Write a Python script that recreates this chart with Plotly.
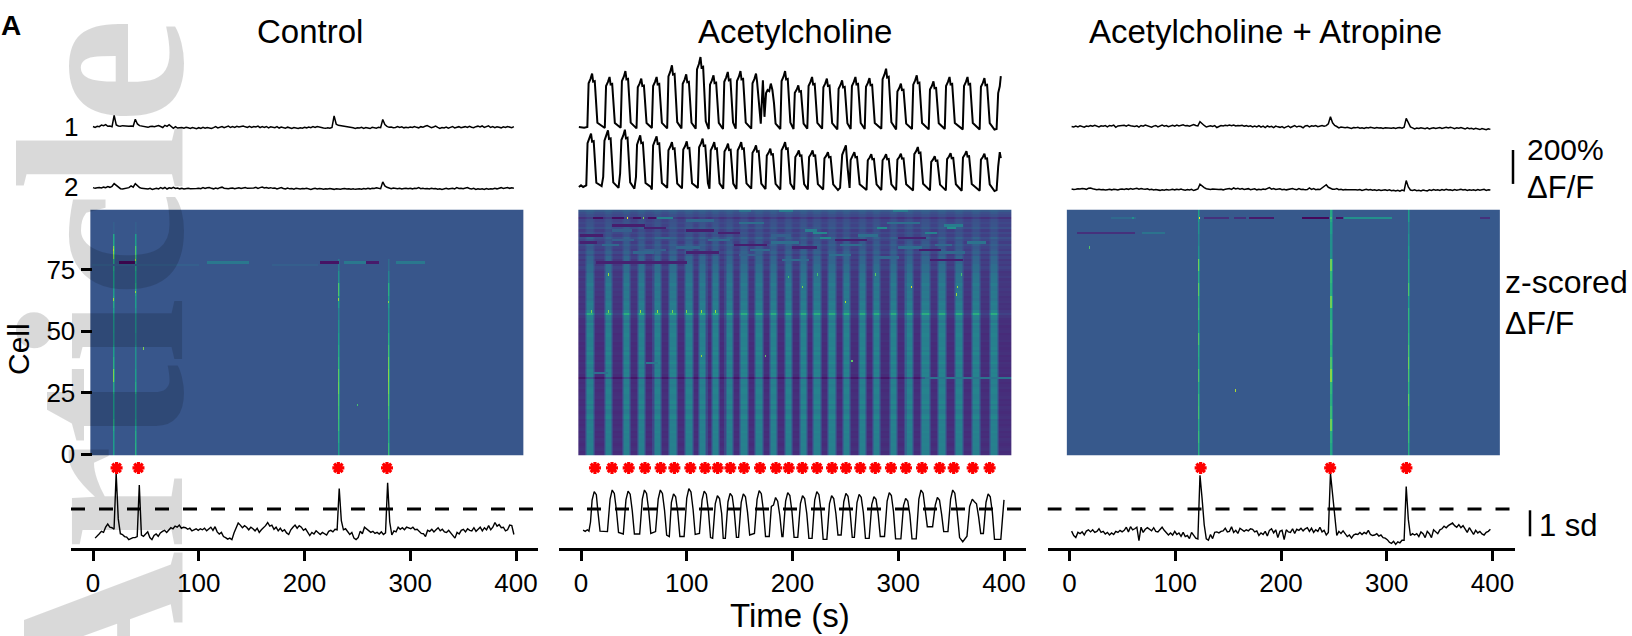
import plotly.graph_objects as go

# Values are estimates. The single-pixel grain of the heatmaps
# cannot be read, so it is deliberately not imitated: only visible features are drawn.

tick_values = [0, 100, 200, 300, 400]
cell_ticks = [0, 25, 50, 75]
threshold_sd = [1, 1]
threshold_time = [-20.8, 420.6]
star_level = 2.58

ctrl_stars = [22.3, 43, 232, 278]
ach_stars = [13.2, 29.3, 45.1, 60.5, 75.3, 88.3, 103.4, 117.3, 129.2, 141.2, 154.1, 169.3, 184.4, 196.4,
             209.3, 223.2, 237.4, 250.6, 264.1, 278.3, 293.1, 307.3, 322.5, 339.2, 352.4, 370.4, 386.4]
atr_stars = [124, 246.5, 318.6]

# Flat dF/F traces (%), one row per 50 s stretch
ctrl_top1 = [
 [3,-2,4,2,12,8,14,4,6,2,68,12,6,4,8,6,3,5,6,4,46,18,8,6,2],
 [4,-2,3,5,2,6,8,3,-3,10,4,14,5,-8,2,-6,-4,-3,-7,-2,-5,-8,-3,-6,-10],
 [-4,-8,-2,-7,-3,-6,-9,-4,2,-5,-2,3,-4,-1,5,-3,2,-2,4,0,3,6,1,-3,4],
 [-2,3,0,5,-4,2,-3,3,-5,1,-2,-4,2,-6,0,-3,-7,-1,-4,-8,-3,-6,-9,-4,-7],
 [-2,-5,0,-4,2,-3,3,-1,-4,-6,-8,-5,-7,-2,66,16,10,8,5,4,1,3,-2,-5,-8],
 [-4,-6,-2,-8,-3,-6,-9,-2,-5,-7,-1,-4,44,14,4,-2,0,-4,-3,2,-3,1,-5,-2,-4],
 [0,-3,3,-2,-5,2,-1,4,8,2,-4,0,5,-2,-8,-3,-6,-1,-7,-2,3,-5,-1,2,-4],
 [-2,2,-3,4,-1,-4,2,5,0,6,-2,3,7,-3,2,-4,1,-2,-5,1,-3,3,-2,-4,2],
]
ctrl_top2 = [
 [2,-2,1,3,0,5,2,8,4,10,26,14,4,-4,-6,-3,-1,2,12,5,26,12,3,-2,-1],
 [-4,-6,-2,-8,-3,-1,-5,2,-4,3,-6,1,-2,4,-3,0,-5,-2,-6,-3,-1,-4,-5,-2,-3],
 [-1,-4,2,-3,1,3,-2,-5,0,-4,2,5,-1,-3,-5,-2,0,-4,-2,1,-3,0,3,-2,-1],
 [-3,0,4,-2,2,6,0,3,-1,2,-2,0,-5,-1,3,-3,-6,0,-5,-3,-7,-2,-4,-6,-3],
 [-5,-2,-6,-8,-4,-2,-6,-3,-5,-7,-4,-6,-3,-5,-8,-4,-6,-7,-5,-3,-6,-4,-7,-5,-8],
 [-6,-4,-7,-3,-6,-2,-5,-1,-3,1,-2,-4,36,12,4,-2,-4,0,-3,-5,-2,-6,-3,-1,-4],
 [-2,-5,-1,-3,2,-4,-1,-5,-3,-6,-2,-5,-3,-7,-4,-8,-5,-2,-6,-3,-1,-5,2,-3,-1],
 [-4,-1,3,-3,-6,-2,-8,-4,-7,-5,-9,-3,-7,-4,-6,-2,-5,-1,2,-3,0,3,-2,1,-1],
]
atr_top1 = [
 [0,-3,2,-2,4,1,-4,3,0,5,2,7,3,-3,4,1,5,-2,6,3,8,-5,3,5,4],
 [7,2,9,4,3,0,4,-4,6,2,8,5,3,-4,2,6,-2,4,9,2,6,-1,4,7,2],
 [8,3,7,10,4,6,2,9,12,6,4,28,14,6,-3,2,4,0,5,-6,2,6,3,7,4],
 [8,5,9,3,6,4,7,2,5,0,4,-3,3,-2,5,-4,2,-6,3,-3,1,-7,2,-2,-5],
 [0,-8,-2,3,-6,-1,5,-3,2,0,-8,3,6,-2,4,1,5,-1,4,6,2,5,16,58,22],
 [6,0,-8,-3,-5,-7,-4,-9,-11,-6,-8,-5,-10,-7,-12,-6,-9,-5,-8,-10,-6,-9,-7,-11,-8],
 [-9,-6,-10,-7,-11,-8,-6,-10,-4,48,22,-2,-8,-14,-9,-12,-7,-11,-13,-8,-14,-10,-7,-12,-9],
 [-6,-11,-8,-5,-9,-4,-8,-13,-7,-10,-6,-12,-15,-8,-13,-10,-16,-11,-14,-18,-12,-16,-19,-13,-17],
]
atr_top2 = [
 [0,-3,-1,2,0,3,1,-2,4,6,2,-2,-4,-2,-5,-3,-6,-4,-2,-5,-1,-3,-6,-2,0],
 [-3,1,-2,3,-1,2,4,-1,3,0,-2,1,-4,-2,-6,-3,-5,-8,-4,-7,-3,-6,-4,-1,-5],
 [-2,-4,0,-5,-7,-3,-6,-2,-9,-4,0,28,16,8,2,-1,-3,0,-2,-4,-3,-2,-5,-1,0],
 [3,-2,6,0,4,-1,3,-3,-1,2,-4,-2,1,-5,-2,-4,0,-3,2,8,-1,3,-3,-2,1],
 [-4,-1,-5,-2,0,3,-2,-4,2,-3,-1,-5,-3,6,-2,2,-4,-1,-3,8,14,25,10,2,-1],
 [-2,2,-4,-2,-6,-3,-5,-4,-7,-3,-5,-6,-3,-8,-5,-2,-6,-3,-7,-4,-8,-5,-9,-7,-4],
 [-8,-5,-10,-7,-12,-8,-13,-6,-10,50,12,-6,-9,-5,-10,-8,-12,-6,-9,-11,-5,-8,-3,-7,-4],
 [-8,-3,-7,-2,-6,-4,-8,-3,-7,-5,-2,-6,-3,-8,-4,-7,-5,-9,-3,-7,-5,-2,-8,-4,-6],
]

# Event traces in sd units, one row per 50 s stretch
ctrl_event = [
 [-.12,-.05,.05,.14,.1,.3,.42,.3,.28,.22,2.37,.62,.05,.02,-.06,-.08,-.18,-.14,-.1,-.1,-.06,1.92,0,-.05,.02],
 [.12,-.1,-.18,-.02,.04,-.05,.08,.14,.18,.1,.2,.28,.24,.34,.3,.38,.26,.3,.28,.22,.26,.16,.2,.24,.18],
 [.24,.2,.26,.16,.22,.3,.18,.32,.12,.04,.1,-.06,-.1,-.16,-.12,-.18,.08,.3,.46,.38,.28,.36,.3,.2,.3],
 [.24,.16,.26,.1,.2,.28,.36,.48,.34,.38,.22,.3,.16,.26,.14,.2,.08,.02,.2,.3,.38,.26,.36,.3,.18],
 [.24,.12,-.02,.1,.04,.16,.08,.02,.1,.04,0,.14,.18,.12,.22,.2,1.79,.55,.2,.24,.12,.02,.1,-.12,-.18],
 [-.1,.15,.05,.3,.22,.18,.1,.14,.06,.1,.04,.12,.02,.08,2.01,.5,0,.16,.12,.3,.22,.28,.2,.3,.26],
 [.24,.3,.2,.22,.12,.06,.05,-.06,.18,.14,.22,.12,.2,.28,.16,.22,.12,.1,.18,.08,-.04,-.12,.1,.04,.18],
 [.22,.12,.24,.18,.16,.28,.14,.22,.3,.16,.28,.2,.36,.2,.3,.48,.34,.4,.28,.3,.16,.2,.38,.36,.02],
]
atr_event = [
 [.15,-.02,-.1,.1,.05,.12,0,.15,.2,.12,.2,.1,.14,.24,.1,.14,.04,.1,0,.08,.02,.14,.1,.18,.12],
 [.18,.3,.12,.32,.2,.24,.3,-.22,.3,.1,.22,.28,.2,.16,.28,.14,.12,.2,.3,.18,.1,0,.08,0,.14],
 [.02,.08,-.05,.1,-.06,-.02,-.14,.1,0,-.12,-.15,2.3,1.4,.4,-.15,-.2,.02,-.14,.1,.12,.08,.14,.16,.26,.12],
 [.14,.32,.1,.18,.06,.26,.2,.14,.2,.16,.24,.22,.12,.16,-.02,.08,.02,.14,-.04,.18,.24,.08,.2,-.1,.14],
 [.18,-.18,.2,.12,.1,.24,.06,.22,.18,.26,.16,.24,.28,.14,.26,.1,.2,.14,.3,.12,.18,0,.1,2.37,1.6],
 [.6,-.02,.14,.06,.16,.04,-.06,0,-.12,0,.04,.02,.1,.02,.1,.05,.18,.02,-.02,0,.05,-.04,0,-.1,-.12],
 [-.18,-.28,-.32,-.24,-.36,-.26,-.3,-.2,-.2,1.86,.6,-.02,.05,0,.05,-.06,.12,.05,-.1,.14,.05,-.1,.2,.14,.05],
 [.2,.24,.34,.28,.36,.42,.46,.36,.3,.4,.28,.36,.22,.1,.28,.16,.02,.18,.08,.14,.04,0,.1,.14,.22],
]

# Acetylcholine traces, read as (time, value) vertices
ach_top1 = [(-2,0),(3,-4),
 (6,0),(7.2,258),(9,284),(10.5,315),(11.5,268),(13,271),(14,173),(15.5,25),
 (22.5,-6),(23.7,242),(25.5,266),(27,295),(28,251),(29.5,254),(30.5,162),(32,24),
 (37.5,-4),(38.7,271),(40.5,297),(42,330),(43,281),(44.5,284),(45.5,182),(47,26),
 (52.5,-8),(53.7,234),(55.5,257),(57,285),(58,242),(59.5,245),(60.5,157),(62,23),
 (67,-6),(68.2,242),(70,266),(71.5,295),(72.5,251),(74,254),(75,162),(76.5,24),
 (81.5,-8),(82.7,298),(84.5,328),(86,364),(87,309),(88.5,313),(89.5,200),(91,29),
 (95,-8),(96.2,255),(98,280),(99.5,311),(100.5,264),(102,267),(103,171),(104.5,25),
 (108.5,-10),(109.7,339),(111.5,372),(113,413),(114,351),(115.5,355),(116.5,227),(118,33),
 (120.8,-12),(122,250),(123.8,275),(125.3,305),(126.3,259),(127.8,262),(128.8,168),(130.3,24),
 (134.3,-12),(135.5,267),(137.3,293),(138.8,325),(139.8,276),(141.3,280),(142.3,179),(143.8,26),
 (146.3,-10),(147.5,271),(149.3,297),(150.8,330),(151.8,281),(153.3,284),(154.3,182),(155.8,26),
 (161,-10),(162.2,258),(164,284),(165.5,315),(166.5,268),(167.5,200),(169,60),
 (170,20),(172,275),(173.5,60),(175,200),(176.5,218),(178,212),(179.5,256),(181,218),(182.5,141),(184,20),
 (188.5,-12),(189.7,271),(191.5,297),(193,330),(194,281),(195.5,284),(196.5,182),(198,26),
 (201,-12),(202.2,202),(204,221),(205.5,246),(206.5,209),(208,212),(209,135),(210.5,20),
 (214,-10),(215.2,242),(217,266),(218.5,295),(219.5,251),(221,254),(222,162),(223.5,24),
 (228,-10),(229.2,234),(231,257),(232.5,285),(233.5,242),(235,245),(236,157),(237.5,23),
 (242.4,-14),(243.6,226),(245.4,248),(246.9,275),(247.9,234),(249.4,237),(250.4,151),(251.9,22),
 (255,-12),(256.2,242),(258,266),(259.5,295),(260.5,251),(262,254),(263,162),(264.5,24),
 (268.3,-12),(269.5,237),(271.3,260),(272.8,289),(273.8,246),(275.3,249),(276.3,159),(277.8,23),
 (284,-10),(285.2,282),(287,310),(288.5,344),(289.5,292),(291,296),(292,189),(293.5,28),
 (298,-14),(299.2,210),(301,230),(302.5,256),(303.5,218),(305,220),(306,141),(307.5,20),
 (313,-12),(314.2,250),(316,275),(317.5,305),(318.5,259),(320,262),(321,168),(322.5,24),
 (328.8,-14),(330,221),(331.8,242),(333.3,269),(334.3,229),(335.8,231),(336.8,148),(338.3,22),
 (344,-12),(345.2,242),(347,266),(348.5,295),(349.5,251),(351,254),(352,162),(353.5,24),
 (361,-14),(362.2,242),(364,266),(365.5,295),(366.5,251),(368,254),(369,162),(370.5,24),
 (377,-15),(378.2,237),(380,260),(381.5,289),(382.5,246),(384,249),(385,159),(386.5,23),
 (391,-15),(393,-12),(394.5,200),(396,240),(397,300)]

ach_top2 = [(-2,0),(0,10),(2,0),(4,8),
 (5,10),(6.2,258),(8,284),(9.5,315),(10.5,268),(12,271),(13,173),(14.5,25),
 (19.5,5),(21,60),(22.2,274),(24,301),(25.5,334),(26.5,284),(28,287),(29,184),(30.5,27),
 (35.5,-5),(37,80),(38.2,277),(40,304),(41.5,338),(42.5,287),(44,291),(45,186),(46.5,27),
 (50.5,-10),(52,60),(53,250),(54.5,275),(56,305),(57,259),(58.5,262),(59.5,168),(61,24),
 (66,0),(67,-15),(68.2,245),(70,269),(71.5,299),(72.5,254),(74,257),(75,164),(76.5,24),
 (81.5,-5),(82.7,217),(84.5,239),(86,265),(87,225),(88.5,228),(89.5,146),(91,21),
 (95.5,-8),(96.7,221),(98.5,242),(100,269),(101,229),(102.5,231),(103.5,148),(105,22),
 (110.5,-5),(111.7,234),(113.5,257),(115,285),(116,242),(117.5,245),(118.5,157),(120,23),
 (121.5,-10),(122.7,217),(124.5,239),(126,265),(127,225),(128.5,228),(129.5,146),(131,21),
 (134.5,-10),(135.7,210),(137.5,230),(139,256),(140,218),(141.5,220),(142.5,141),(144,20),
 (147,-12),(148.2,217),(150,239),(151.5,265),(152.5,225),(154,228),(155,146),(156.5,21),
 (161,-10),(162.2,202),(164,221),(165.5,246),(166.5,209),(168,212),(169,135),(170.5,20),
 (174.5,-12),(175.7,185),(177.5,203),(179,226),(180,192),(181.5,194),(182.5,124),(184,18),
 (188.5,-15),(189.7,217),(191.5,239),(193,265),(194,225),(195.5,228),(196.5,146),(198,21),
 (201.5,-15),(202.7,177),(204.5,194),(206,216),(207,184),(208.5,186),(209.5,119),(211,17),
 (214.5,-15),(215.7,177),(217.5,194),(219,216),(220,184),(221.5,186),(222.5,119),(224,17),
 (229,-15),(230.2,169),(232,185),(233.5,206),(234.5,175),(236,177),(237,113),(238.5,16),
 (243,-18),(245,-5),(247,190),(249,221),(250.5,246),(252,120),(254,-5),
 (255,160),(257,185),(258.5,206),(259.5,175),(261,177),(262,113),(263.5,16),
 (270,-18),(271.2,158),(273,174),(274.5,193),(275.5,164),(277,166),(278,106),(279.5,15),
 (284,-18),(285.2,158),(287,174),(288.5,193),(289.5,164),(291,166),(292,106),(293.5,15),
 (298,-18),(299.2,162),(301,177),(302.5,197),(303.5,167),(305,169),(306,108),(307.5,16),
 (314,-20),(315.2,194),(317,212),(318.5,236),(319.5,201),(321,203),(322,130),(323.5,19),
 (330,-20),(331.2,148),(333,163),(334.5,181),(335.5,154),(337,156),(338,100),(339.5,14),
 (345,-20),(346.2,164),(348,180),(349.5,200),(350.5,170),(352,172),(353,110),(354.5,16),
 (360,-22),(361.2,174),(363,191),(364.5,212),(365.5,180),(367,182),(368,117),(369.5,17),
 (377,-22),(378.2,162),(380,177),(381.5,197),(382.5,167),(384,169),(385,108),(386.5,16),
 (391,-24),(393,-18),(394.5,120),(396,206),(397,170)]

ach_event = [(2,.19),(4,.14),(6,.2),(7.5,.15),
 (9,.5),(10.5,1.34),(12.5,1.67),(14.5,1.55),(16,.9),(18,.15),
 (25,.13),(27.5,1.38),(29.5,1.73),(31.5,1.6),(33.5,.95),(35.5,.1),
 (40,.04),(42.5,1.35),(44.5,1.69),(46.5,1.57),(48.5,.93),(50.5,.04),
 (55.5,.04),(58,1.38),(60,1.73),(62,1.6),(64,.95),(66,.06),
 (70.5,.13),(73,1.38),(75,1.73),(77,1.6),(79,.95),(81,0),
 (83.5,-.06),(85.5,1.26),(87.5,1.58),(89.5,1.47),(91.5,.87),(93.5,-.06),
 (97.5,-.06),(100,1.42),(102,1.78),(104,1.65),(106,.98),(108,.02),
 (112,.06),(114.5,1.35),(116.5,1.69),(118.5,1.57),(120.5,.93),(122.5,-.1),
 (124.5,-.13),(127,1.21),(129,1.51),(131,1.4),(133,.83),(134.5,-.13),
 (136.5,-.13),(139,1.28),(141,1.6),(143,1.49),(145,.88),(147,-.09),
 (149,-.09),(151.5,1.26),(153.5,1.58),(155.5,1.47),(157.5,.87),(159.5,0),
 (164,.06),(166.5,1.37),(168.5,1.71),(170.5,1.59),(172.5,.94),(174.5,-.06),
 (178,-.06),(180,1.1),(182,1.15),(184,1.44),(186,1.3),(188,.75),(190,-.06),
 (191,-.06),(193.5,1.3),(195.5,1.63),(197.5,1.52),(199.5,.9),(201.5,-.09),
 (205,-.09),(207.5,1.21),(209.5,1.51),(211.5,1.4),(213.5,.83),(215.5,-.13),
 (218.5,-.13),(221,1.34),(223,1.67),(225,1.55),(227,.92),(229,-.17),
 (232.5,-.17),(235,1.21),(237,1.51),(239,1.4),(241,.83),(243,0),
 (246,0),(248.5,1.28),(250.5,1.6),(252.5,1.49),(254.5,.88),(256.5,-.09),
 (258.5,-.09),(261,1.25),(263,1.56),(265,1.45),(267,.86),(269,-.13),
 (272.5,-.13),(275,1.18),(277,1.47),(279,1.37),(281,.81),(283,-.06),
 (287,-.06),(289.5,1.3),(291.5,1.63),(293.5,1.52),(295.5,.9),(297.5,-.15),
 (302.5,-.15),(305,1.13),(307,1.41),(309,1.31),(311,.78),(313,-.15),
 (317,-.15),(319.5,1.38),(321.5,1.73),(323.5,1.61),(325.5,.95),(327.5,.32),
 (332.5,.32),(335,1.15),(337,1.44),(339,1.34),(341,.8),(343,.13),
 (347,.13),(349.5,1.38),(351.5,1.73),(353.5,1.61),(355.5,.95),(358,-.1),
 (361,-.26),(365,-.05),(367.5,1.1),(370,1.38),(372,1.28),(374,1.2),(376,.7),(378,.06),
 (380.5,.06),(383,1.26),(385,1.58),(387,1.47),(389,.87),(391,-.17),
 (395,-.17),(397,-.17),(398.5,.6),(400,1.35)]

# Heatmap features. Levels are viridis fractions, per 5 cell bin from cell 0 upward.
ctrl_background = .27
atr_background = .28
ctrl_band_time = [19, 40, 232, 279]
ctrl_band_level = [
 [.55,.55,.6,.55,.55,.6,.8,.62,.55,.5,.52,.55,.6,.55,.55,.6,.82,.6,.3,.27],
 [.62,.6,.55,.5,.5,.6,.55,.5,.5,.45,.5,.5,.55,.6,.55,.6,.72,.55,.3,.27],
 [.55,.6,.68,.7,.72,.78,.75,.65,.6,.55,.5,.45,.55,.72,.5,.4,.27,.27,.27,.27],
 [.68,.6,.62,.7,.75,.8,.82,.78,.7,.62,.55,.5,.55,.62,.45,.35,.27,.27,.27,.27],
]
atr_band_time = [122, 247, 320]
atr_band_level = [
 [.62,.68,.62,.7,.68,.6,.72,.6,.62,.72,.55,.68,.65,.75,.62,.78,.5,.45,.5,.55],
 [.58,.62,.78,.68,.62,.66,.82,.72,.62,.66,.68,.6,.78,.62,.66,.78,.5,.5,.55,.6],
 [.62,.68,.72,.7,.76,.66,.72,.78,.72,.66,.62,.66,.55,.72,.6,.6,.55,.5,.45,.55],
]
ach_stripe_time = [8.5,25.9,42.6,57.4,72.2,86.7,101.6,114.8,127.4,140,153.6,167.8,182,196.2,
                   209.8,223,237.2,251.4,265.6,279.2,294.9,309.8,325.5,341.3,357,372.9,390.2]
ach_row_base = [
 .13,.12,.14,.13,.12,.13,.14,.12,.13,.12,.14,.13,.12,.13,.12,.14,.13,.12,.13,.14,
 .12,.13,.12,.14,.13,.13,.12,.14,.13,.12,.13,.06,.12,.14,.13,.12,.13,.14,.12,.13,
 .12,.14,.13,.12,.13,.12,.14,.13,.13,.12,.14,.13,.12,.14,.13,.14,.16,.2,.17,.14,
 .15,.14,.16,.15,.14,.16,.15,.17,.15,.16,.17,.15,.18,.16,.15,.18,.2,.17,.19,.16,
 .2,.17,.22,.18,.2,.23,.18,.21,.24,.19,.22,.18,.24,.2,.22,.2,.14,.22,.24,.28]
ach_row_gain = [
 .3,.32,.29,.3,.32,.3,.29,.32,.3,.33,.29,.3,.32,.3,.29,.33,.32,.3,.29,.32,
 .3,.33,.32,.29,.3,.32,.33,.3,.29,.32,.3,.22,.33,.3,.32,.29,.3,.33,.32,.29,
 .3,.32,.29,.33,.3,.32,.29,.3,.32,.33,.29,.3,.29,.32,.27,.3,.29,.42,.29,.27,
 .27,.29,.26,.24,.27,.24,.26,.22,.24,.26,.22,.24,.21,.22,.19,.18,.16,.18,.14,.16,
 .13,.11,.1,.11,.08,.08,.1,.06,.08,.06,.05,.06,.05,.06,.04,.05,.05,.03,.04,.03]
# (cell, first second, last second, level)
ctrl_streaks = [(78,25,39,.02),(78,108,147,.4),(78,215,232,.05),(78,238,257,.4),(78,258,270,.07),
                (78,287,313,.4),(77,0,100,.3),(77,170,212,.3)]
atr_streaks = [(96,40,62,.34),(96,128,150,.14),(96,156,166,.14),(96,170,193,.07),(96,220,245,.02),
               (96,252,258,.05),(96,260,304,.5),(96,388,397,.14),(90,8,61,.14),(90,69,90,.38)]
ach_streaks = [(99,188,200,.42),(99,295,308,.42),(99,150,160,.38),(96,12,20,.04),(96,30,40,.04),(96,50,56,.04),
               (96,64,70,.04),(96,72,86,.44),(95,100,125,.33),(94,150,172,.36),(94,290,320,.36),(93,343,360,.42),
               (92,280,289,.48),(92,346,354,.5),(91,212,222,.42),(90,220,232,.46),(90,325,336,.44),(89,262,280,.36),
               (88,226,236,.46),(88,70,84,.34),(87,120,140,.34),(86,180,205,.36),(86,365,382,.38),(85,20,35,.34),
               (85,245,265,.36),(84,300,322,.36),(84,90,112,.33),(83,160,178,.34),(82,50,68,.33),(82,340,362,.34),
               (81,235,255,.36),(80,280,300,.33),(79,190,215,.34),(93,30,60,.08),(91,100,125,.08),(89,0,20,.08),
               (87,240,270,.08),(85,145,175,.08),(83,320,340,.08),(79,330,360,.08),(78,15,100,.09),
               (92,60,80,.09),(90,130,150,.09),(88,300,325,.09),(86,0,15,.09),(84,200,222,.09),(82,100,130,.09),
               (91,30,48,.3),(89,180,198,.3),(87,30,50,.3),(85,335,350,.34),(83,60,80,.3),(81,150,170,.3),
               (31,325,406,.38),(37,62,72,.4),(33,12,25,.36)]
# (second, cell, level)
ctrl_spots = [(19,83,.9),(19,63,.85),(40,79,.9),(40,66,.85),(232,63,.85),(279,62,.82),(48,43,.8),(250,20,.7)]
atr_spots = [(123,96,1.0),(157,26,.88),(19,84,.72),(247,96,.7),(60,96,.5)]
ach_spots = [(44,96,.98),(59,96,.8),(26,73,.85),(312,68,.95),(250,62,.9),(356,68,.85),(355,65,.85),(209,68,.8),
             (10,58,.8),(26,58,.8),(56,58,.85),(72,58,.85),(86,58,.8),(100,58,.8),(114,58,.85),(127,58,.85),
             (278,73,.75),(223,73,.7),(359,73,.7),(196,72,.7),(114,40,.85),(174,40,.75),(256,38,.75)]

heat_time = list(range(-2, 407))
heat_cell = list(range(100))


def paint(z, streaks, spots):
    for cell, t0, t1, level in streaks:
        for t in range(int(t0), int(t1) + 1):
            z[cell][t + 2] = level
    for t, cell, level in spots:
        z[cell][t + 2] = level
    return z


def banded(background, times, levels, streaks, spots):
    z = [[background] * len(heat_time) for _ in heat_cell]
    for t, lv in zip(times, levels):
        for cell in heat_cell:
            v = lv[cell // 5]
            z[cell][t + 2] = v
            z[cell][t + 3] = (v + background) / 2
    return paint(z, streaks, spots)


def striped():
    z = []
    for cell in heat_cell:
        row = []
        for t in heat_time:
            d = min(abs(t - c) for c in ach_stripe_time)
            on = 1 if d <= 2.5 else (.65 if d <= 3.5 else (.3 if d <= 4.5 else 0))
            row.append(ach_row_base[cell] + ach_row_gain[cell] * on)
        z.append(row)
    return paint(z, ach_streaks, ach_spots)


W, H = 1632, 636
PX_PER_SD = 26
HEAT_TOP, HEAT_BOTTOM = 209.5, 455.5
AXIS_Y = 548


def dom(top, bottom):
    return [1 - bottom / H, 1 - top / H]


def flatten(rows, start, end):
    span = (end - start) / len(rows)
    xs, ys = [], []
    for k, row in enumerate(rows):
        for i, v in enumerate(row):
            xs.append(start + k * span + i * span / len(row))
            ys.append(v)
    return xs, ys


columns = [
    dict(left=71.0, title='Control', title_x=310, top1=flatten(ctrl_top1, 0, 400), top2=flatten(ctrl_top2, 0, 400),
         event=flatten(ctrl_event, 2, 400), stars=ctrl_stars, heat=banded(ctrl_background, ctrl_band_time, ctrl_band_level, ctrl_streaks, ctrl_spots),
         base1=127, base2=188),
    dict(left=559.0, title='Acetylcholine', title_x=795, top1=list(zip(*ach_top1)), top2=list(zip(*ach_top2)),
         event=list(zip(*ach_event)), stars=ach_stars, heat=striped(), base1=127, base2=187),
    dict(left=1047.5, title='Acetylcholine + Atropine', title_x=1265.5, top1=flatten(atr_top1, 2, 400), top2=flatten(atr_top2, 2, 400),
         event=flatten(atr_event, 2, 400), stars=atr_stars, heat=banded(atr_background, atr_band_time, atr_band_level, atr_streaks, atr_spots),
         base1=126.5, base2=189),
]

fig = go.Figure()
layout = {}
annotations = []
AX_W = 467
x_range = [-20.8, -20.8 + AX_W / 1.0575]


def sec(top, bottom, base, per_px):
    return [(base - bottom) * per_px, (base - top) * per_px]


for c, col in enumerate(columns):
    xn = c + 1
    xname = f'x{xn}' if xn > 1 else 'x'
    ys = [c * 4 + k for k in (1, 2, 3, 4)]
    ynames = [f'y{n}' if n > 1 else 'y' for n in ys]
    layout[f'xaxis{xn}'] = dict(domain=[col['left'] / W, (col['left'] + AX_W) / W], range=x_range, anchor=ynames[3],
                                showline=True, linecolor='black', linewidth=2.5, showgrid=False, zeroline=False,
                                ticks='outside', ticklen=10, tickwidth=3, tickcolor='black', tickvals=tick_values,
                                tickfont=dict(size=26, color='black'))
    layout[f'yaxis{ys[0]}'] = dict(domain=dom(50, 145), range=sec(50, 145, col['base1'], 5.9), anchor=xname, visible=False)
    layout[f'yaxis{ys[1]}'] = dict(domain=dom(120, 205), range=sec(120, 205, col['base2'], 5.9), anchor=xname, visible=False)
    heat_y = dict(domain=dom(HEAT_TOP, HEAT_BOTTOM), range=[-.5, 99.5], showgrid=False, zeroline=False)
    if c == 0:
        heat_y.update(anchor='free', position=91.5 / W, tickvals=cell_ticks, ticks='outside', ticklen=11, tickwidth=3,
                      tickcolor='black', tickfont=dict(size=26, color='black'), showline=False)
    else:
        heat_y.update(anchor=xname, visible=False)
    layout[f'yaxis{ys[2]}'] = heat_y
    layout[f'yaxis{ys[3]}'] = dict(domain=dom(458, AXIS_Y), range=sec(458, AXIS_Y, 535, 1 / PX_PER_SD), anchor=xname, visible=False)

    width_top = 2.0 if c == 1 else 1.5
    fig.add_trace(go.Heatmap(x=heat_time, y=heat_cell, z=col['heat'], colorscale='Viridis', zmin=0, zmax=1,
                             showscale=False, xaxis=xname, yaxis=ynames[2], hoverinfo='skip'))
    for key, yn, wd in (('top1', ynames[0], width_top), ('top2', ynames[1], width_top), ('event', ynames[3], 1.4)):
        xs, vals = col[key]
        fig.add_trace(go.Scatter(x=list(xs), y=list(vals), mode='lines', line=dict(color='black', width=wd),
                                 xaxis=xname, yaxis=yn, showlegend=False, hoverinfo='skip'))
    fig.add_trace(go.Scatter(x=threshold_time, y=threshold_sd, mode='lines',
                             line=dict(color='black', width=3, dash='14px,14px'),
                             xaxis=xname, yaxis=ynames[3], showlegend=False, hoverinfo='skip'))
    fig.add_trace(go.Scatter(x=col['stars'], y=[star_level] * len(col['stars']), mode='markers',
                             marker=dict(symbol='asterisk', size=10, color='#ff0000', line=dict(color='#ff0000', width=3.2)),
                             xaxis=xname, yaxis=ynames[3], showlegend=False, cliponaxis=False, hoverinfo='skip'))
    annotations.append((col['title'], col['title_x'], 32, 33, 'center', 0, False))

annotations += [
    ('A', 11, 25, 28, 'center', 0, True),
    ('1', 71, 127, 26, 'center', 0, False),
    ('2', 71, 187, 26, 'center', 0, False),
    ('Cell', 18, 349, 30, 'center', -90, False),
    ('Time (s)', 790, 615, 33, 'center', 0, False),
    ('200%', 1525, 149, 30, 'left', 0, False),
    ('ΔF/F', 1525, 188, 31, 'left', 0, False),
    ('z-scored', 1503, 282, 32, 'left', 0, False),
    ('ΔF/F', 1503, 323, 32, 'left', 0, False),
    ('1 sd', 1537, 525, 31, 'left', 0, False),
]
ann = [dict(text='<b>Article</b>', x=101 / W, y=1 - 371 / H, xref='paper', yref='paper', showarrow=False, textangle=-90,
            xanchor='center', yanchor='middle', font=dict(family='Liberation Serif', size=240, color='rgba(0,0,0,0.15)'))]
for text, x, y, size, anchor, angle, bold in annotations:
    ann.append(dict(text=f'<b>{text}</b>' if bold else text, x=x / W, y=1 - y / H, xref='paper', yref='paper',
                    showarrow=False, xanchor=anchor, yanchor='middle', textangle=angle,
                    font=dict(size=size, color='black')))

shapes = [
    dict(type='line', xref='paper', yref='y10', x0=1513 / W, x1=1513 / W, y0=30, y1=230,
         line=dict(color='black', width=2.5)),
    dict(type='line', xref='paper', yref='y12', x0=1530 / W, x1=1530 / W, y0=-.05, y1=.95,
         line=dict(color='black', width=2.5)),
]

fig.update_layout(width=W, height=H, margin=dict(l=0, r=0, t=0, b=0, autoexpand=False), paper_bgcolor='white',
                  plot_bgcolor='rgba(0,0,0,0)', showlegend=False, font=dict(family='Liberation Sans', color='black'),
                  annotations=ann, shapes=shapes, **layout)

fig.write_html('out.html', config={'displayModeBar': False},
               post_script="document.body.style.margin='0';document.body.style.overflow='hidden';")
